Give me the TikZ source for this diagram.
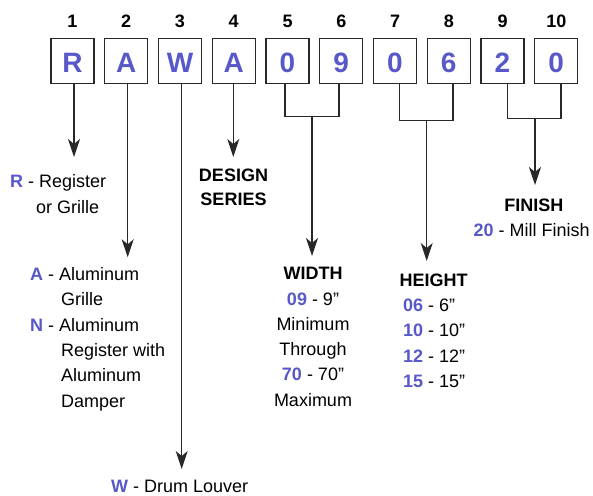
\documentclass[tikz,border=0pt]{standalone}
\usepackage{fontspec}
\setmainfont{Liberation Sans}
\usetikzlibrary{arrows.meta,calc}
\definecolor{codeblue}{RGB}{88,88,200}
\definecolor{linegray}{RGB}{40,40,40}
\newcommand\blucode[1]{\textcolor{codeblue}{\bfseries #1}}
\begin{document}
\begin{tikzpicture}[x=1pt,y=-1pt,
 digitbox/.style={draw=linegray, line width=1.3pt, minimum width=43pt, minimum height=45pt, inner sep=0pt, text height=24pt, text depth=0pt, font=\fontsize{28}{28}\selectfont\bfseries, text=codeblue},
 poslabel/.style={anchor=base, inner sep=0pt, font=\fontsize{18}{18}\selectfont\bfseries},
 txt/.style={inner sep=0pt, font=\fontsize{18}{18}\selectfont},
 head/.style={anchor=base, inner sep=0pt, font=\fontsize{18}{18}\selectfont\bfseries},
 conn/.style={draw=linegray, line width=1.3pt},
 arr/.style={conn, -{Stealth[length=18pt,width=12pt,inset=5pt]}}
]
\useasboundingbox (0,0) rectangle (593,495);
\foreach \i/\c in {1/R,2/A,3/W,4/A,5/0,6/9,7/0,8/6,9/2,10/0}{
  \node[digitbox] (b\i) at ({72.5+(\i-1)*53.75},60.8) {\c};
  \node[poslabel] (n\i) at ({72.5+(\i-1)*53.75},28) {\i};
}
% texts
\node[txt, anchor=base west] (r1) at (10,187.7) {\blucode{R} - Register};
\node[txt, anchor=base west] (r2) at (36,213.3) {or Grille};
\node[txt, anchor=base west] (a1) at (30,280) {\blucode{A} - Aluminum};
\node[txt, anchor=base west] (a2) at (61,305.3) {Grille};
\node[txt, anchor=base west] (a3) at (30,331) {\blucode{N} - Aluminum};
\node[txt, anchor=base west] (a4) at (61,356.7) {Register with};
\node[txt, anchor=base west] (a5) at (61,381.7) {Aluminum};
\node[txt, anchor=base west] (a6) at (61,407) {Damper};
\node[head] (d1) at (233.5,181) {DESIGN};
\node[head] (d2) at (233.5,205.7) {SERIES};
\node[head] (w1) at (313,279) {WIDTH};
\node[txt, anchor=base] (w2) at (313,305) {\blucode{09} - 9”};
\node[txt, anchor=base] (w3) at (313,330) {Minimum};
\node[txt, anchor=base] (w4) at (313,355) {Through};
\node[txt, anchor=base] (w5) at (313,380) {\blucode{70} - 70”};
\node[txt, anchor=base] (w6) at (313,406) {Maximum};
\node[head] (h1) at (433.7,286.7) {HEIGHT};
\node[txt, anchor=base west] (h2) at (403,311.7) {\blucode{06} - 6”};
\node[txt, anchor=base west] (h3) at (403,336.7) {\blucode{10} - 10”};
\node[txt, anchor=base west] (h4) at (403,362) {\blucode{12} - 12”};
\node[txt, anchor=base west] (h5) at (403,387) {\blucode{15} - 15”};
\node[head] (f1) at (533.8,211) {FINISH};
\node[txt, anchor=base west] (f2) at (473.5,236.7) {\blucode{20} - Mill Finish};
\node[txt, anchor=base west] (dl) at (111,492) {\blucode{W} - Drum Louver};
% connectors
\coordinate (t1) at (74,157);
\coordinate (t2) at (127.7,257.3);
\coordinate (t3) at (181.7,469);
\coordinate (t4) at (233.3,157);
\draw[arr] (b1.south -| t1) -- (t1);
\draw[arr] (b2.south -| t2) -- (t2);
\draw[arr] (b3.south -| t3) -- (t3);
\draw[arr] (b4.south -| t4) -- (t4);
\coordinate (m56) at (312,116.7);
\coordinate (t56) at (312,256);
\coordinate (m78) at (426.7,120.7);
\coordinate (t78) at (426.7,261);
\coordinate (m910) at (535,118.3);
\coordinate (t910) at (535,185);
\draw[conn] ([xshift=-2.5pt]b5.south) |- (m56) -| ([xshift=-2.25pt]b6.south);
\draw[conn] ([xshift=4.3pt]b7.south) |- (m78) -| ([xshift=4.3pt]b8.south);
\draw[conn] ([xshift=4.8pt]b9.south) |- (m910) -| ([xshift=4.8pt]b10.south);
\draw[arr] (m56) -- (t56);
\draw[arr] (m78) -- (t78);
\draw[arr] (m910) -- (t910);
\end{tikzpicture}
\end{document}
